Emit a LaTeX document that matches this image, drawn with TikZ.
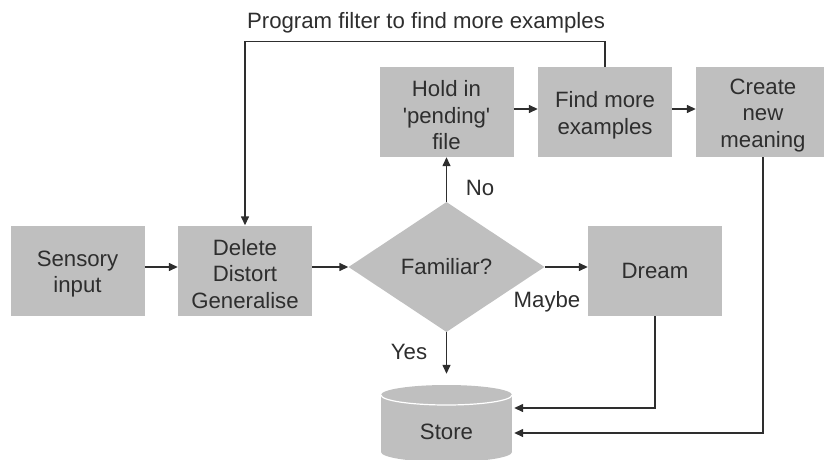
\documentclass[tikz,border=0pt]{standalone}
\usepackage{fontspec}
% plain family: keeps the straight apostrophe
\newfontfamily\labelfont{Liberation Sans}
\usetikzlibrary{arrows.meta,shapes.geometric}

\definecolor{boxgray}{HTML}{BFBFBF}
\definecolor{ink}{HTML}{2E2E2E}

\begin{document}
\begin{tikzpicture}[x=1pt,y=-1pt,
  every node/.style={text=ink, font=\labelfont\fontsize{22.2}{26.5}\selectfont},
  stepbox/.style={fill=boxgray, draw=none, minimum width=134pt,
    minimum height=90pt, align=center, inner sep=0pt},
  boxtext/.style={align=center, inner sep=0pt, yshift=-3.5pt},
  decision/.style={shape=diamond, fill=boxgray, draw=none, inner sep=0pt,
    minimum width=196pt, minimum height=130pt},
  flow/.style={draw=ink, line width=1.4pt, -{Triangle[length=9pt,width=8pt]}},
  tag/.style={inner sep=0pt}
]
\useasboundingbox (0,0) rectangle (824,460);

% process boxes (multi-line captions sit a little low in their boxes)
\node[stepbox, label={[boxtext]center:{Sensory\\input}}] (sensory) at (77.5,270.5) {};
\node[stepbox, label={[boxtext]center:{Delete\\Distort\\Generalise}}] (delete) at (245,270.5) {};
\node[stepbox, label={[boxtext]center:{Hold in\\'pending'\\file}}] (hold) at (446.5,112) {};
\node[stepbox, label={[boxtext]center:{Find more\\examples}}] (find) at (605,112) {};
\node[stepbox, label={[boxtext]center:{Create\\new\\meaning}}] (create) at (763,112) {};
\node[stepbox] (dream) at (655,271) {Dream};
\node[decision] (familiar) at (446.5,267) {Familiar?};

% storage cylinder
\node[minimum width=131pt, minimum height=75pt, inner sep=0pt] (store) at (446.5,422.5) {};
\fill[boxgray] (381,395) rectangle (512,452);
\fill[boxgray] (446.5,452) ellipse[x radius=65.5, y radius=10];
\fill[boxgray] (446.5,395) ellipse[x radius=65.5, y radius=10];
\draw[white, line width=1.2pt] (381,395) arc[start angle=180, end angle=0, x radius=65.5, y radius=10];
\node at (446.5,432) {Store};

% title of the feedback loop
\node[anchor=base, tag] (title) at (426,29) {Program filter to find more examples};

% connectors
\draw[flow] (sensory.east |- familiar) -- (delete.west |- familiar);
\draw[flow] (delete.east |- familiar) -- (familiar.west);
\draw[flow] (familiar.east) -- (dream.west |- familiar);
\draw[flow] (familiar.north) -- (hold.south);
\draw[flow] ([yshift=3pt]hold.east) -- ([yshift=3pt]find.west);
\draw[flow] ([yshift=3pt]find.east) -- ([yshift=3pt]create.west);
\draw[flow, shorten >=11pt] (familiar.south) -- (store.north);
\draw[flow, shorten >=2pt] (dream.south) |- ([yshift=14.5pt]store.east);
\draw[flow, shorten >=2pt] (create.south) |- ([yshift=-10.5pt]store.east);
\draw[flow] (find.north) -- ++(0,-25) -| (delete.north);

% branch labels
\node[tag] (no)    at (480,188) {No};
\node[tag] (yes)   at (409,352) {Yes};
\node[tag] (maybe) at (547,302) {Maybe};
\end{tikzpicture}
\end{document}
